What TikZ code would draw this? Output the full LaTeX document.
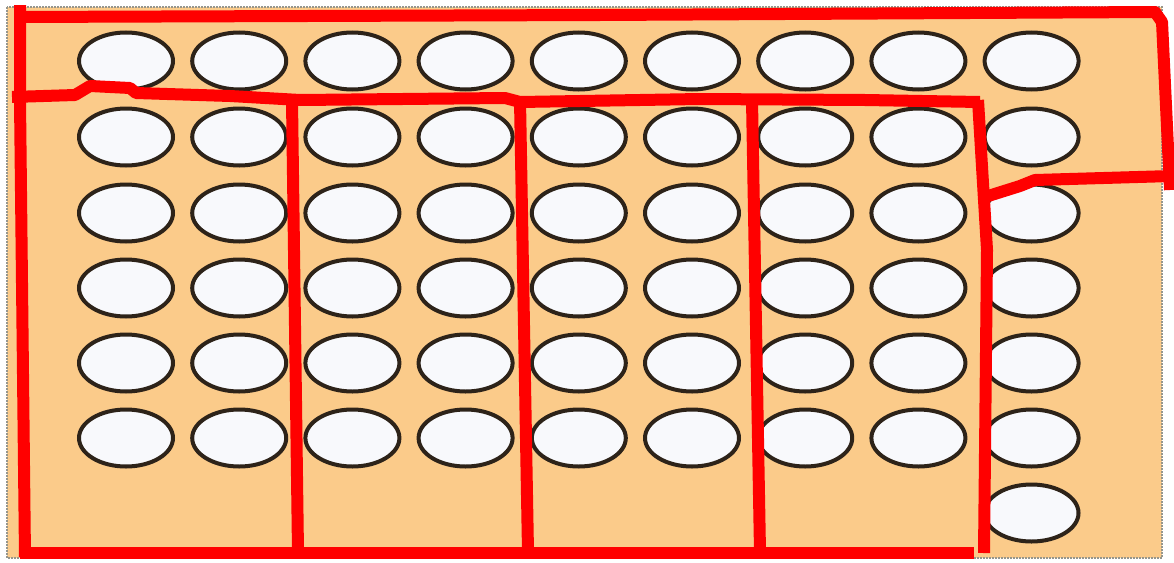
\documentclass[tikz,border=0pt]{standalone}
\usetikzlibrary{shapes.geometric}
\definecolor{bgorange}{RGB}{251,203,138}
\definecolor{holefill}{RGB}{248,249,252}
\definecolor{holeedge}{RGB}{45,35,25}
\definecolor{marker}{RGB}{255,0,0}
\definecolor{frameg}{RGB}{150,150,140}
\begin{document}
\begin{tikzpicture}[x=1pt,y=-1pt,
  hole/.style={ellipse,draw=holeedge,fill=holefill,line width=4pt,minimum width=94pt,minimum height=57pt,inner sep=0pt},
  redline/.style={draw=marker,line width=12pt,line cap=butt,line join=round}]
\useasboundingbox (0,0) rectangle (1174,562);
\fill[white] (0,0) rectangle (1174,562);
\draw[fill=bgorange,draw=frameg,line width=2pt,densely dotted] (7,7) rectangle (1162,558);
% holes
\foreach \r/\y in {1/61,2/137,3/213,4/288,5/363,6/438}{
  \foreach \c in {1,...,9}{
    \node[hole] (h-\r-\c) at ({126+(\c-1)*113.2},\y) {};
  }
}
\node[hole] (h-7-9) at (1031.5,513) {};
% red marker lines
\draw[redline] (20,5) -- (20,100) -- (25,557);
\draw[redline] (15,17) -- (600,15) -- (1155,12) -- (1162,22) -- (1170,190);
\draw[redline] (1172,176) -- (1035,180) -- (1020,186) -- (985,197);
\draw[redline] (12,97) -- (75,95) -- (90,86) -- (130,88) -- (136,93) -- (230,96) -- (300,100) -- (505,98) -- (520,102) -- (700,99) -- (865,100) -- (980,102);
\draw[redline] (292,100) -- (298,552);
\draw[redline] (520,100) -- (528,552);
\draw[redline] (752,100) -- (760,552);
\draw[redline] (978,100) -- (987,250) -- (984,553);
\draw[redline] (20,553) -- (974,553);
\end{tikzpicture}
\end{document}
